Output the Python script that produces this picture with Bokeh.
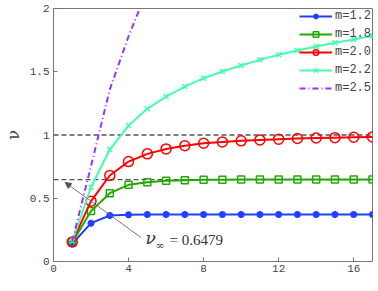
from bokeh.plotting import figure
from bokeh.models import Span, Arrow, NormalHead, Label, FixedTicker, Range1d, Legend, LegendItem
from bokeh.embed import file_html
from bokeh.resources import INLINE

L = list(range(1, 18))
nu_m12 = [0.14, 0.303, 0.364, 0.369, 0.371, 0.372, 0.372, 0.372, 0.372, 0.372, 0.372, 0.372, 0.372, 0.372, 0.372, 0.372, 0.372]
nu_m18 = [0.15, 0.40, 0.54, 0.606, 0.627, 0.638, 0.643, 0.646, 0.647, 0.6475, 0.6478, 0.6479, 0.6479, 0.6479, 0.6479, 0.6479, 0.6479]
nu_m20 = [0.155, 0.477, 0.68, 0.79, 0.851, 0.89, 0.915, 0.935, 0.945, 0.954, 0.961, 0.967, 0.972, 0.976, 0.979, 0.982, 0.985]
nu_m22 = [0.16, 0.587, 0.885, 1.075, 1.207, 1.304, 1.383, 1.449, 1.502, 1.549, 1.594, 1.634, 1.668, 1.700, 1.729, 1.755, 1.784]
L_m25 = [1, 2, 3, 4, 5]
nu_m25 = [0.16, 0.755, 1.36, 1.78, 2.15]
nu_inf = 0.6479
x_ticks = [0, 4, 8, 12, 16]
y_ticks = [0, 0.5, 1, 1.5, 2]
y_tick_labels = {0: "0", 0.5: "0.5", 1: "1", 1.5: "1.5", 2: "2"}

MONO = "Liberation Mono"

p = figure(width=378, height=291, output_backend="svg", toolbar_location=None,
           x_range=Range1d(0, 17), y_range=Range1d(0, 2),
           min_border_left=50, min_border_right=6, min_border_top=8, min_border_bottom=30)
p.background_fill_color = "white"
p.border_fill_color = "white"
p.outline_line_color = "#777777"
p.grid.visible = False

for ax in (p.xaxis[0], p.yaxis[0]):
    ax.axis_line_color = "#777777"
    ax.major_tick_line_color = "#777777"
    ax.major_tick_in = 4
    ax.major_tick_out = 0
    ax.minor_tick_line_color = None
    ax.major_label_text_font = MONO
    ax.major_label_text_color = "#444444"

p.xaxis.ticker = FixedTicker(ticks=x_ticks)
p.yaxis.ticker = FixedTicker(ticks=y_ticks)
p.yaxis.major_label_overrides = y_tick_labels
p.xaxis.major_label_text_font_size = "11px"
p.yaxis.major_label_text_font_size = "11px"
p.xaxis.major_label_standoff = 3
p.yaxis.major_label_standoff = 4
p.yaxis.axis_label = "ν"
p.yaxis.axis_label_text_font = "DejaVu Serif"
p.yaxis.axis_label_text_font_size = "16px"
p.yaxis.axis_label_text_font_style = "normal"
p.yaxis.axis_label_standoff = 4

# x-axis title placed just below the tick labels
p.add_layout(Label(x=8.5, y=0, y_offset=-21, text="L", text_font=MONO, text_font_size="13px",
                   text_align="center", text_baseline="middle", text_color="#333333"))

for yv in (1.0, nu_inf):
    p.add_layout(Span(location=yv, dimension="width", line_color="#555555",
                      line_dash="5 3", line_width=1.3, level="underlay"))

BLUE = "#2040ff"
GREEN = "#22aa00"
RED = "#ff0000"
CYAN = "#44ffaa"
PURPLE = "#9933ff"

items = []
l1 = p.line(L, nu_m12, line_color=BLUE, line_width=2)
s1 = p.scatter(L, nu_m12, marker="asterisk", size=7, line_color=BLUE, line_width=2.2)
items.append(LegendItem(label="m=1.2", renderers=[l1, s1]))
l2 = p.line(L, nu_m18, line_color=GREEN, line_width=2)
s2 = p.scatter(L, nu_m18, marker="square", size=7, line_color=GREEN, fill_color=None, line_width=1.5)
items.append(LegendItem(label="m=1.8", renderers=[l2, s2]))
l3 = p.line(L, nu_m20, line_color=RED, line_width=2)
s3 = p.scatter(L, nu_m20, marker="circle", size=10, line_color=RED, fill_color=None, line_width=1.5)
items.append(LegendItem(label="m=2.0", renderers=[l3, s3]))
l4 = p.line(L, nu_m22, line_color=CYAN, line_width=2)
s4 = p.scatter(L, nu_m22, marker="x", size=7, line_color=CYAN, line_width=1.5)
items.append(LegendItem(label="m=2.2", renderers=[l4, s4]))
l5 = p.line(L_m25, nu_m25, line_color=PURPLE, line_width=2, line_dash="6 3 1 3")
items.append(LegendItem(label="m=2.5", renderers=[l5]))

legend = Legend(items=items, location="top_right", background_fill_alpha=0,
                border_line_color=None, label_text_font=MONO, label_text_font_size="12px",
                glyph_width=33, glyph_height=14, label_height=14, spacing=4,
                label_standoff=3, padding=0, margin=1)
p.add_layout(legend)

p.add_layout(Arrow(end=NormalHead(size=6, fill_color="#555555", line_color="#555555"),
                   x_start=4.66, y_start=0.19, x_end=0.62, y_end=0.625,
                   line_color="#666666", line_width=0.9))

p.add_layout(Label(x=4.9, y=0.105, text="ν", text_font="DejaVu Serif",
                   text_font_style="italic", text_font_size="17px", text_color="#333333"))
p.add_layout(Label(x=4.9, y=0.105, x_offset=10, y_offset=-4, text="∞", text_font="DejaVu Serif",
                   text_font_size="11px", text_color="#333333"))
p.add_layout(Label(x=4.9, y=0.105, x_offset=24, text="= 0.6479", text_font="Liberation Serif",
                   text_font_size="15px", text_color="#333333"))

open("out.html", "w").write(file_html(p, INLINE))
